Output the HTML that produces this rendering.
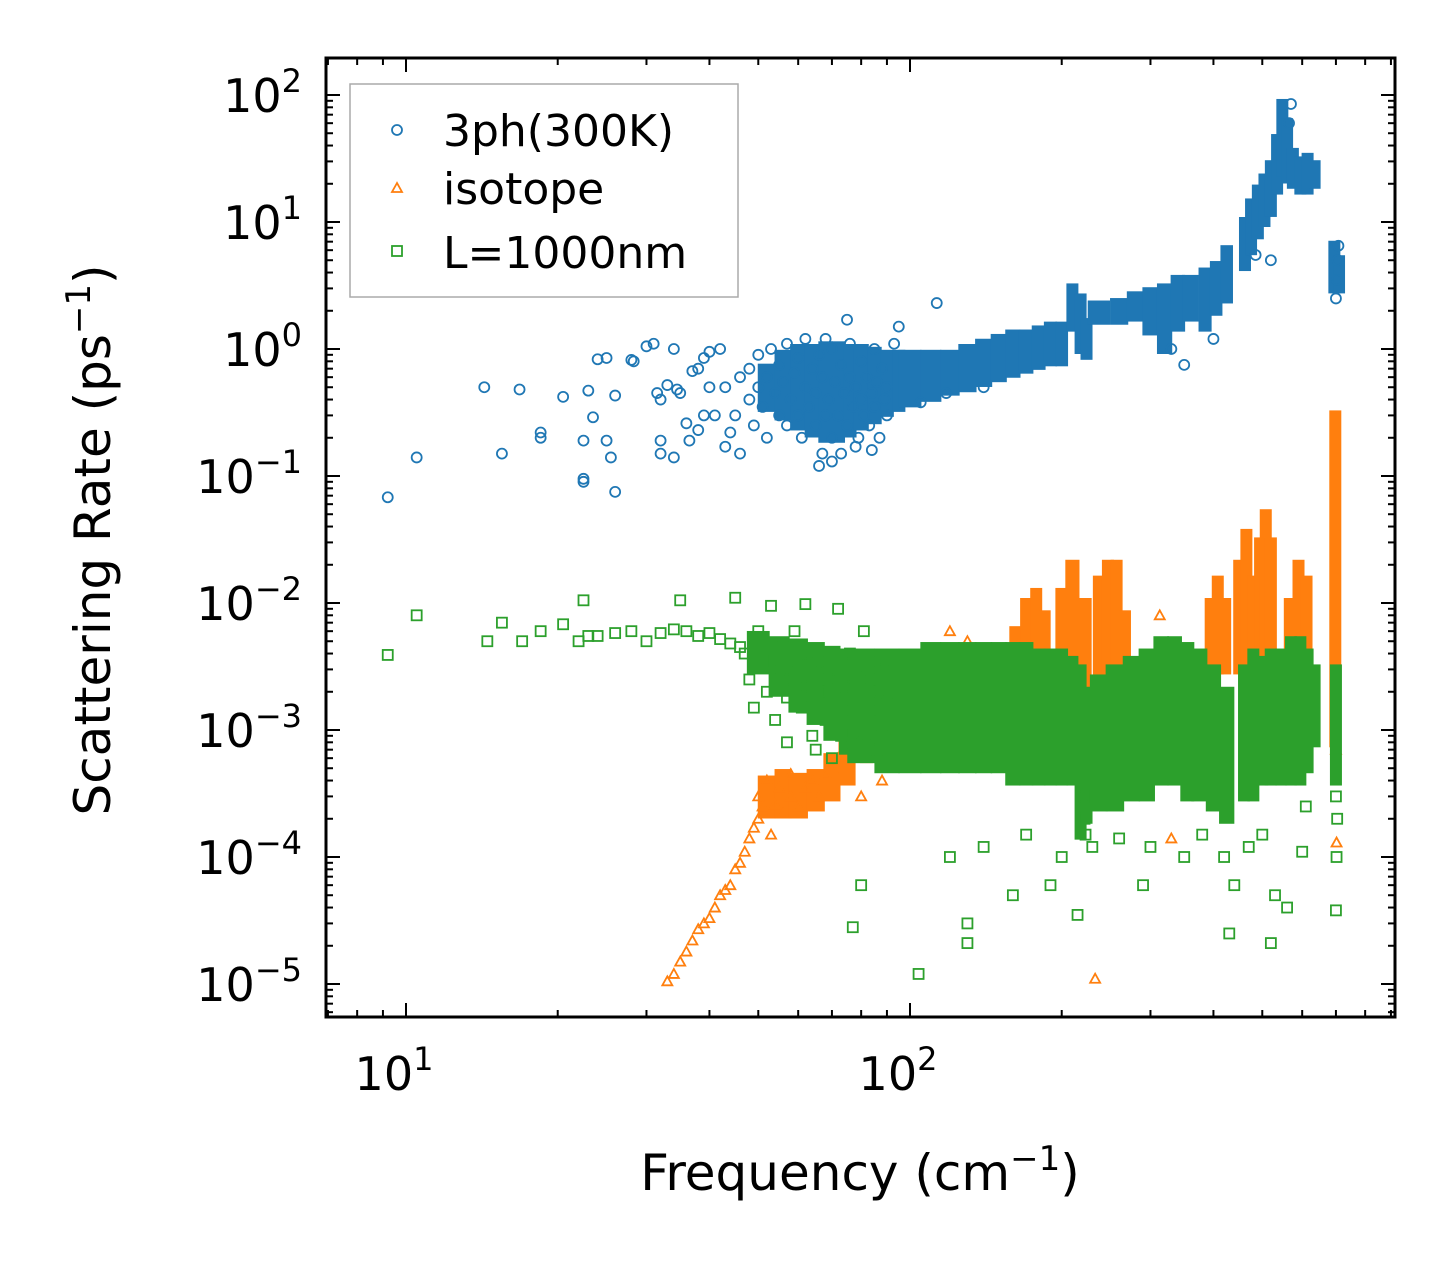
<!DOCTYPE html>
<html><head><meta charset="utf-8"><style>
html,body{margin:0;padding:0;background:#fff;}
svg{display:block;font-family:"DejaVu Sans","Liberation Sans",sans-serif;}
</style></head><body>
<svg id="chart" width="1455" height="1265" viewBox="0 0 1455 1265" xmlns="http://www.w3.org/2000/svg">
<rect x="0" y="0" width="1455" height="1265" fill="#fff"/>
<g id="series"></g>
<g id="ticks"></g>
<rect x="326" y="58" width="1069" height="959" fill="none" stroke="#000" stroke-width="3"/>
<g id="labels" font-size="46"></g>
<text x="860" y="1190" font-size="50" text-anchor="middle">Frequency (cm<tspan dy="-20" font-size="34">−1</tspan><tspan dy="20">)</tspan></text>
<text transform="translate(110,540) rotate(-90)" font-size="50" text-anchor="middle">Scattering Rate (ps<tspan dy="-20" font-size="34">−1</tspan><tspan dy="20">)</tspan></text>
<g>
<rect x="350" y="84" width="388" height="213" fill="#fff" stroke="#aaa" stroke-width="1.5"/>
<circle cx="397" cy="130" r="5" fill="none" stroke="#1f77b4" stroke-width="1.8"/>
<text x="443" y="146" font-size="44">3ph(300K)</text>
<polygon points="397,183 392,192 402,192" fill="none" stroke="#ff7f0e" stroke-width="1.8"/>
<text x="443" y="204" font-size="44">isotope</text>
<rect x="392" y="246" width="10" height="10" fill="none" stroke="#2ca02c" stroke-width="1.8"/>
<text x="443" y="268" font-size="44">L=1000nm</text>
</g>
</svg>
<script>
const xTickLabels = [10, 100];
const yTickExps = [2, 1, 0, -1, -2, -3, -4, -5];
// dense regions: [frequency, lowest rate, highest rate]
const blueBandA = [[52,0.35,0.7],[56,0.3,0.9],[60,0.25,1.0],[64,0.22,1.0],[68,0.2,1.05],[72,0.2,1.05],[76,0.22,1.0],[80,0.25,1.0],[85,0.28,0.95],[90,0.32,0.9],[95,0.35,0.9],[100,0.38,0.9],[110,0.42,0.9],[120,0.47,0.9],[130,0.5,1.0],[140,0.55,1.1],[150,0.6,1.2],[160,0.65,1.3],[170,0.7,1.3],[180,0.75,1.4],[190,0.8,1.5],[200,0.8,1.5],[210,1.5,3],[218,1.0,2.5],[224,0.9,1.6]];
const blueBandB = [[237,1.7,2.2],[260,1.7,2.3],[280,1.8,2.6],[300,1.4,2.8],[320,1.0,3.0],[340,1.5,3.5],[360,1.8,3.5],[385,1.5,4],[405,2,4.5],[425,2.5,6]];
const blueBandC = [[462,4.5,10],[475,6,14],[490,8,18],[505,10,22],[520,12,28],[535,18,45],[548,25,85],[560,22,60],[575,20,35],[595,18,30],[615,18,32],[635,20,28]];
const blueBandD = [[695,3,6.5],[710,3,5]];
const orangeBandA = [[52,2.2e-4,4e-4],[56,2.2e-4,4.5e-4],[60,2.2e-4,4.2e-4],[65,2.5e-4,4.5e-4],[70,3e-4,6e-4],[75,4e-4,8e-4]];
const orangeBandB = [[162,0.002,0.006],[170,0.002,0.01],[178,0.002,0.012],[185,0.002,0.008]];
const orangeBandC = [[200,0.002,0.012],[210,0.002,0.02],[222,0.002,0.01]];
const orangeBandD = [[237,0.002,0.015],[247,0.002,0.02],[257,0.002,0.02],[267,0.002,0.008]];
const orangeBandE = [[395,0.003,0.01],[408,0.003,0.015],[422,0.003,0.01]];
const orangeBandF = [[450,0.003,0.02],[465,0.003,0.035],[480,0.003,0.015],[495,0.003,0.03],[508,0.003,0.05],[520,0.003,0.03]];
const orangeBandG = [[567,0.003,0.01],[590,0.003,0.02],[612,0.003,0.015]];
const orangeBandH = [[698,0.0008,0.3]];
const greenBandA = [[50,0.003,0.0055],[55,0.002,0.005],[60,0.0015,0.0048],[65,0.0012,0.0045],[70,0.0009,0.0042],[75,0.0007,0.004],[80,0.0006,0.004],[90,0.0005,0.004],[100,0.0005,0.004],[110,0.0005,0.0045],[120,0.0005,0.0045],[130,0.0005,0.0045],[140,0.0005,0.0045],[150,0.0005,0.0045],[160,0.0004,0.0045],[170,0.0004,0.0045],[180,0.0004,0.004],[190,0.0004,0.004],[200,0.0004,0.004],[210,0.0004,0.0035],[218,0.00015,0.003],[224,0.0002,0.002]];
const greenBandB = [[237,0.00025,0.0025],[255,0.00025,0.003],[275,0.0003,0.0035],[295,0.0003,0.004],[315,0.0004,0.005],[335,0.0004,0.005],[355,0.0003,0.0045],[375,0.0003,0.004],[400,0.00025,0.003],[425,0.0002,0.002]];
const greenBandC = [[460,0.0003,0.003],[480,0.0003,0.004],[500,0.0004,0.0035],[520,0.0004,0.004],[545,0.0004,0.004],[570,0.0004,0.005],[595,0.0004,0.005],[615,0.0005,0.004],[635,0.0008,0.003]];
const greenBandD = [[700,0.0004,0.003]];

const blueData = [[9.2,0.068],[10.5,0.14],[14.3,0.5],[15.5,0.15],[16.8,0.48],[18.5,0.22],[18.5,0.2],[20.5,0.42],[22.5,0.095],[22.5,0.09],[22.5,0.19],[23,0.47],[23.5,0.29],[24,0.83],[25,0.85],[25,0.19],[25.5,0.14],[26,0.43],[26,0.075],[28,0.82],[28.3,0.8],[30,1.05],[31,1.1],[31.5,0.45],[32,0.19],[32,0.4],[32,0.15],[33,0.52],[34,0.14],[34,1.0],[34.5,0.48],[35,0.45],[36,0.26],[36.5,0.19],[37,0.67],[38,0.23],[38,0.7],[39,0.3],[39,0.85],[40,0.95],[40,0.5],[41,0.3],[42,1.0],[43,0.5],[43,0.17],[44,0.22],[45,0.3],[46,0.15],[46,0.6],
[48,0.7],[48,0.4],[49,0.25],[50,0.9],[50,0.5],[51,0.35],[52,0.6],[52,0.2],[53,1.0],[54,0.45],[55,0.3],[55,0.75],[56,0.55],[57,0.25],[57,1.1],[58,0.4],[59,0.65],[60,0.3],[60,0.85],[61,0.2],[62,0.5],[62,1.2],[63,0.35],[64,0.7],[65,0.25],[65,0.45],[66,0.9],[67,0.15],[67,0.6],[68,0.3],[69,0.4],[70,1.0],[70,0.2],[71,0.55],[72,0.3],[73,0.75],[73,0.15],[74,0.45],[75,0.25],[76,0.6],[76,1.1],[77,0.35],[78,0.5],[79,0.2],[80,0.8],[80,0.4],[81,0.3],[82,0.6],[83,0.25],[84,0.45],[85,1.0],[85,0.35],[86,0.55],[87,0.2],[88,0.7],[89,0.4],[90,0.5],[90,0.3],
[66,0.12],[70,0.13],[78,0.17],[84,0.16],[113,2.3],[95,1.5],[75,1.7],[68,1.2],[350,0.75],[330,1.0],[400,1.2],[93,1.1],[105,0.38],[118,0.45],[140,0.5],
[485,5.5],[520,5],[565,60],[570,85],[700,2.5],[703,3.5],[706,5],[708,6.5]];
const orangeData = [[33,1.05e-5],[34,1.2e-5],[35,1.5e-5],[36,1.8e-5],[37,2.2e-5],[38,2.7e-5],[39,3e-5],[40,3.3e-5],[41,4e-5],[42,5e-5],[43,5.5e-5],[44,6e-5],[45,8e-5],[46,9e-5],[47,1.1e-4],[48,1.4e-4],[49,1.7e-4],[50,2e-4],[50,3e-4],[51,2.5e-4],[52,4e-4],[53,1.5e-4],[54,2.6e-4],[55,3.5e-4],[56,2.2e-4],[58,3e-4],[58,4.5e-4],[60,2.5e-4],[62,3.5e-4],[64,4e-4],[66,3e-4],[68,4.5e-4],[70,5e-4],[72,6e-4],[74,7e-4],
[80,3e-4],[82,6e-4],[85,1e-3],[88,4e-4],[90,2e-3],[95,1.5e-3],[100,3e-3],[105,2e-3],[110,4e-3],[115,3e-3],[120,6e-3],[125,4e-3],[130,5e-3],[140,4e-3],[150,3e-3],[313,0.008],[313,0.004],[700,7e-4],[702,1.3e-4],[233,1.1e-5],[330,1.4e-4]];
const greenData = [[9.2,0.0039],[10.5,0.008],[14.5,0.005],[15.5,0.007],[17,0.005],[18.5,0.006],[20.5,0.0068],[22,0.005],[22.5,0.0105],[23,0.0055],
[24,0.0055],[26,0.0058],[28,0.006],[30,0.005],[32,0.0058],[34,0.0062],[35,0.0105],[36,0.006],[38,0.0055],[40,0.0058],[42,0.0052],[44,0.0048],[45,0.011],[46,0.0045],
[47,0.004],[48,0.0025],[49,0.0015],[50,0.006],[51,0.0035],[52,0.002],[53,0.0095],[54,0.0012],[55,0.003],[56,0.0045],[57,0.0018],[58,0.0025],[59,0.006],[60,0.0035],[61,0.0015],[62,0.0022],[63,0.004],[64,0.0009],[65,0.0028],[66,0.002],[67,0.0035],[68,0.0012],[69,0.0025],[70,0.0006],[71,0.0018],[72,0.003],[73,0.0009],[74,0.0022],[75,0.0014],[76,0.004],[77,0.0008],[78,0.0026],[79,0.0012],[80,0.0018],[81,0.006],[82,0.0009],[83,0.0025],[84,0.0014],[85,0.0035],[86,0.0007],[87,0.002],[88,0.0011],[89,0.003],[90,0.0016],[57,0.0008],[62,0.0098],[65,0.0007],[72,0.009],
[221,0.0003],[222,0.0002],[223,0.00015],
[700,0.0003],[702,0.0001],[704,0.0002],
[77,2.8e-5],[80,6e-5],[104,1.2e-5],[130,3e-5],[130,2.1e-5],[160,5e-5],[190,6e-5],[215,3.5e-5],[290,6e-5],[430,2.5e-5],[440,6e-5],[520,2.1e-5],[530,5e-5],[560,4e-5],[700,3.8e-5],
[120,0.0001],[140,0.00012],[170,0.00015],[200,0.0001],[230,0.00012],[260,0.00014],[300,0.00012],[350,0.0001],[380,0.00015],[420,0.0001],[470,0.00012],[500,0.00015],[600,0.00011],[610,0.00025]];

const X = f => 406 + 504 * (Math.log10(f) - 1);
const Y = r => 95 + 127 * (2 - Math.log10(r));
const NS = 'http://www.w3.org/2000/svg';
const series = document.getElementById('series');
function mk(tag, attrs, parent) {
  const el = document.createElementNS(NS, tag);
  for (const k in attrs) el.setAttribute(k, attrs[k]);
  parent.appendChild(el);
  return el;
}
function drawBands(bands, color, g) {
  bands.forEach((b, i) => {
    const x = X(b[0]);
    let w = 10;
    if (i < bands.length - 1) w = X(bands[i + 1][0]) - x;
    else if (i > 0) w = x - X(bands[i - 1][0]);
    w = Math.min(Math.max(w, 10), 30);
    const y1 = Y(b[2]) - 5, y2 = Y(b[1]) + 5;
    const el = mk('rect', {x: x - w / 2 - 1, y: y1, width: w + 2, height: y2 - y1, fill: color}, g);
    
    
  });
}
const gB = mk('g', {}, series);


[blueBandA, blueBandB, blueBandC, blueBandD].forEach(b => drawBands(b, '#1f77b4', gB));
blueData.forEach(d => {
  const el = mk('circle', {cx: X(d[0]), cy: Y(d[1]), r: 5, fill: 'none', stroke: '#1f77b4', 'stroke-width': 1.8}, gB);
  
  
});
const gO = mk('g', {}, series);


[orangeBandA, orangeBandB, orangeBandC, orangeBandD, orangeBandE, orangeBandF, orangeBandG, orangeBandH].forEach(b => drawBands(b, '#ff7f0e', gO));
orangeData.forEach(d => {
  const x = X(d[0]), y = Y(d[1]);
  const el = mk('polygon', {points: `${x},${y-5} ${x-5},${y+4} ${x+5},${y+4}`, fill: 'none', stroke: '#ff7f0e', 'stroke-width': 1.8}, gO);
  
  
});
const gG = mk('g', {}, series);


[greenBandA, greenBandB, greenBandC, greenBandD].forEach(b => drawBands(b, '#2ca02c', gG));
greenData.forEach(d => {
  const el = mk('rect', {x: X(d[0]) - 5, y: Y(d[1]) - 5, width: 10, height: 10, fill: 'none', stroke: '#2ca02c', 'stroke-width': 1.8}, gG);
  
  
});

const ticks = document.getElementById('ticks');
const L = 326, R = 1395, T = 58, B = 1017;
function tick(x1, y1, x2, y2) { mk('line', {x1, y1, x2, y2, stroke: '#000', 'stroke-width': 2}, ticks); }
for (let e = 0; e <= 3; e++) for (let m = 1; m <= 9; m++) {
  const x = X(m * Math.pow(10, e));
  if (x < L || x > R) continue;
  const len = m === 1 ? 14 : 7;
  tick(x, B, x, B - len); tick(x, T, x, T + len);
}
for (let e = -6; e <= 2; e++) for (let m = 1; m <= 9; m++) {
  const y = Y(m * Math.pow(10, e));
  if (y < T || y > B) continue;
  const len = m === 1 ? 14 : 7;
  tick(L, y, L + len, y); tick(R, y, R - len, y);
}
const labels = document.getElementById('labels');
xTickLabels.forEach(v => {
  const t = mk('text', {x: X(v) - 12, y: 1090, 'text-anchor': 'middle'}, labels);
  
  
  t.innerHTML = `10<tspan dy="-20" font-size="32">${Math.round(Math.log10(v))}</tspan>`;
});
yTickExps.forEach(e => {
  const t = mk('text', {x: 302, y: Y(Math.pow(10, e)) + 17, 'text-anchor': 'end'}, labels);
  
  
  t.innerHTML = `10<tspan dy="-20" font-size="32">${e < 0 ? '−' + (-e) : e}</tspan>`;
});
</script>
</body></html>
